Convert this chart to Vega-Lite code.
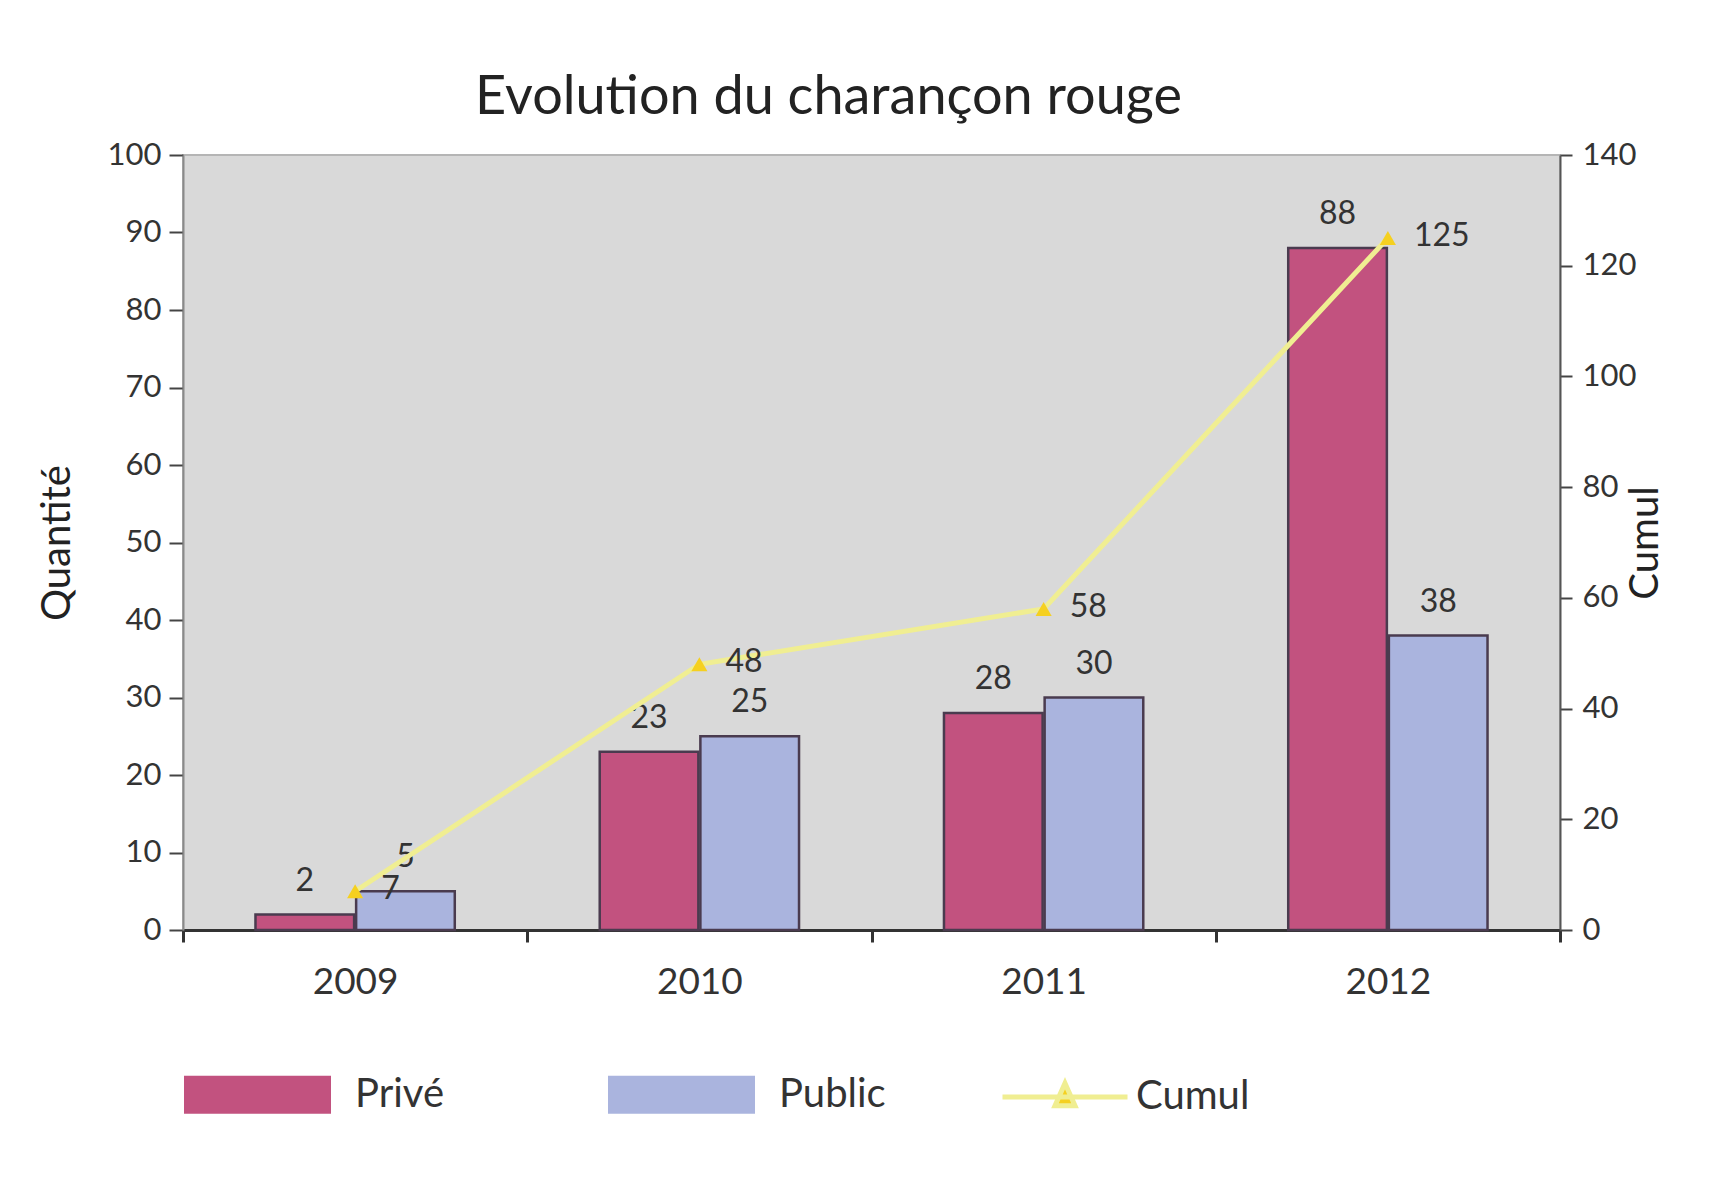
{
  "$schema": "https://vega.github.io/schema/vega-lite/v6.json",
  "autosize": "none",
  "width": 1377,
  "height": 775,
  "padding": {"left": 183, "top": 155, "right": 153, "bottom": 272},
  "background": "white",
  "config": {
    "font": "Lato",
    "view": {"fill": "#d9d9d9", "stroke": "#b5b5b5", "strokeWidth": 2},
    "axis": {"labelColor": "#333333", "titleColor": "#222222", "titleFontWeight": "normal", "labelFont": "Lato", "titleFont": "Lato", "grid": false},
    "legend": {"padding": 0}
  },
  "title": {
    "text": "Evolution du charançon rouge",
    "fontSize": 54,
    "fontWeight": "normal",
    "color": "#222222",
    "anchor": "middle",
    "dx": -43,
    "offset": 14
  },
  "datasets": {
    "barres": [
      {"annee": "2009", "serie": "Privé", "valeur": 2},
      {"annee": "2009", "serie": "Public", "valeur": 5},
      {"annee": "2010", "serie": "Privé", "valeur": 23},
      {"annee": "2010", "serie": "Public", "valeur": 25},
      {"annee": "2011", "serie": "Privé", "valeur": 28},
      {"annee": "2011", "serie": "Public", "valeur": 30},
      {"annee": "2012", "serie": "Privé", "valeur": 88},
      {"annee": "2012", "serie": "Public", "valeur": 38}
    ],
    "cumul": [
      {"annee": "2009", "serie": "Cumul", "cumul": 7},
      {"annee": "2010", "serie": "Cumul", "cumul": 48},
      {"annee": "2011", "serie": "Cumul", "cumul": 58},
      {"annee": "2012", "serie": "Cumul", "cumul": 125}
    ]
  },
  "encoding": {
    "x": {
      "field": "annee",
      "type": "nominal",
      "scale": {"paddingInner": 0, "paddingOuter": 0},
      "axis": {
        "title": null,
        "labelAngle": 0,
        "labelFontSize": 37,
        "labelPadding": 22,
        "tickBand": "extent",
        "tickSize": 12,
        "tickWidth": 3,
        "tickColor": "#333333",
        "domainColor": "#333333",
        "domainWidth": 3
      }
    }
  },
  "layer": [
    {
      "data": {"name": "barres"},
      "encoding": {
        "xOffset": {"field": "serie", "type": "nominal", "sort": ["Privé", "Public"], "scale": {"paddingOuter": 0.72, "paddingInner": 0.02}},
        "y": {
          "field": "valeur",
          "type": "quantitative",
          "scale": {"domain": [0, 100], "nice": false},
          "axis": {
            "title": "Quantité",
            "titleFontSize": 40,
            "titlePadding": 30,
            "titleAngle": -90,
            "values": [0, 10, 20, 30, 40, 50, 60, 70, 80, 90, 100],
            "labelFontSize": 31,
            "labelPadding": 8,
            "tickSize": 14,
            "tickWidth": 2,
            "tickColor": "#444444",
            "domainColor": "#8a8a8a",
            "domainWidth": 2
          }
        }
      },
      "layer": [
        {
          "mark": {"type": "bar", "stroke": "#4a3b4f", "strokeWidth": 2.5},
          "encoding": {
            "color": {
              "field": "serie",
              "type": "nominal",
              "scale": {"domain": ["Privé", "Public"], "range": ["#c2527f", "#aab4de"]},
              "legend": {
                "title": null,
                "orient": "none",
                "legendX": 1,
                "legendY": 866,
                "direction": "horizontal",
                "columns": 2,
                "columnPadding": 164,
                "labelFontSize": 40,
                "labelColor": "#333333",
                "labelOffset": 24,
                "symbolType": "M-1,-0.26H1V0.26H-1Z",
                "symbolSize": 21609,
                "symbolStrokeWidth": 0,
                "symbolOpacity": 1,
                "labelLimit": 300
              }
            }
          }
        },
        {
          "mark": {"type": "text", "dy": -24, "fontSize": 32, "color": "#333333", "baseline": "alphabetic"},
          "encoding": {"text": {"field": "valeur", "type": "quantitative"}}
        }
      ]
    },
    {
      "data": {"name": "cumul"},
      "encoding": {
        "y": {
          "field": "cumul",
          "type": "quantitative",
          "scale": {"domain": [0, 140], "nice": false},
          "axis": {
            "orient": "right",
            "title": "Cumul",
            "titleFontSize": 40,
            "titleAngle": -90,
            "titlePadding": 30,
            "values": [0, 20, 40, 60, 80, 100, 120, 140],
            "labelFontSize": 31,
            "labelPadding": 10,
            "tickSize": 12,
            "tickWidth": 2,
            "tickColor": "#444444",
            "domainColor": "#555555",
            "domainWidth": 2
          }
        }
      },
      "layer": [
        {
          "mark": {"type": "line", "strokeWidth": 5},
          "encoding": {
            "stroke": {
              "field": "serie",
              "type": "nominal",
              "scale": {"domain": ["Cumul"], "range": ["#f0ee92"]},
              "legend": {
                "title": null,
                "orient": "none",
                "legendX": 817,
                "legendY": 877,
                "labelFontSize": 40,
                "labelColor": "#333333",
                "labelOffset": 6,
                "symbolType": "M-1,0H1M0,-0.22L0.16,0.14L-0.16,0.14Z",
                "symbolSize": 15625,
                "symbolStrokeWidth": 5,
                "symbolFillColor": "#f5d020",
                "symbolOpacity": 1,
                "labelLimit": 300
              }
            }
          }
        },
        {
          "mark": {"type": "point", "shape": "triangle-up", "filled": true, "size": 260, "opacity": 1, "color": "#f5d020"},
          "encoding": {}
        },
        {
          "mark": {"type": "text", "align": "left", "dx": 26, "dy": 8, "fontSize": 32, "color": "#333333", "baseline": "alphabetic"},
          "encoding": {"text": {"field": "cumul", "type": "quantitative"}}
        }
      ]
    }
  ],
  "resolve": {"scale": {"y": "independent"}}
}
